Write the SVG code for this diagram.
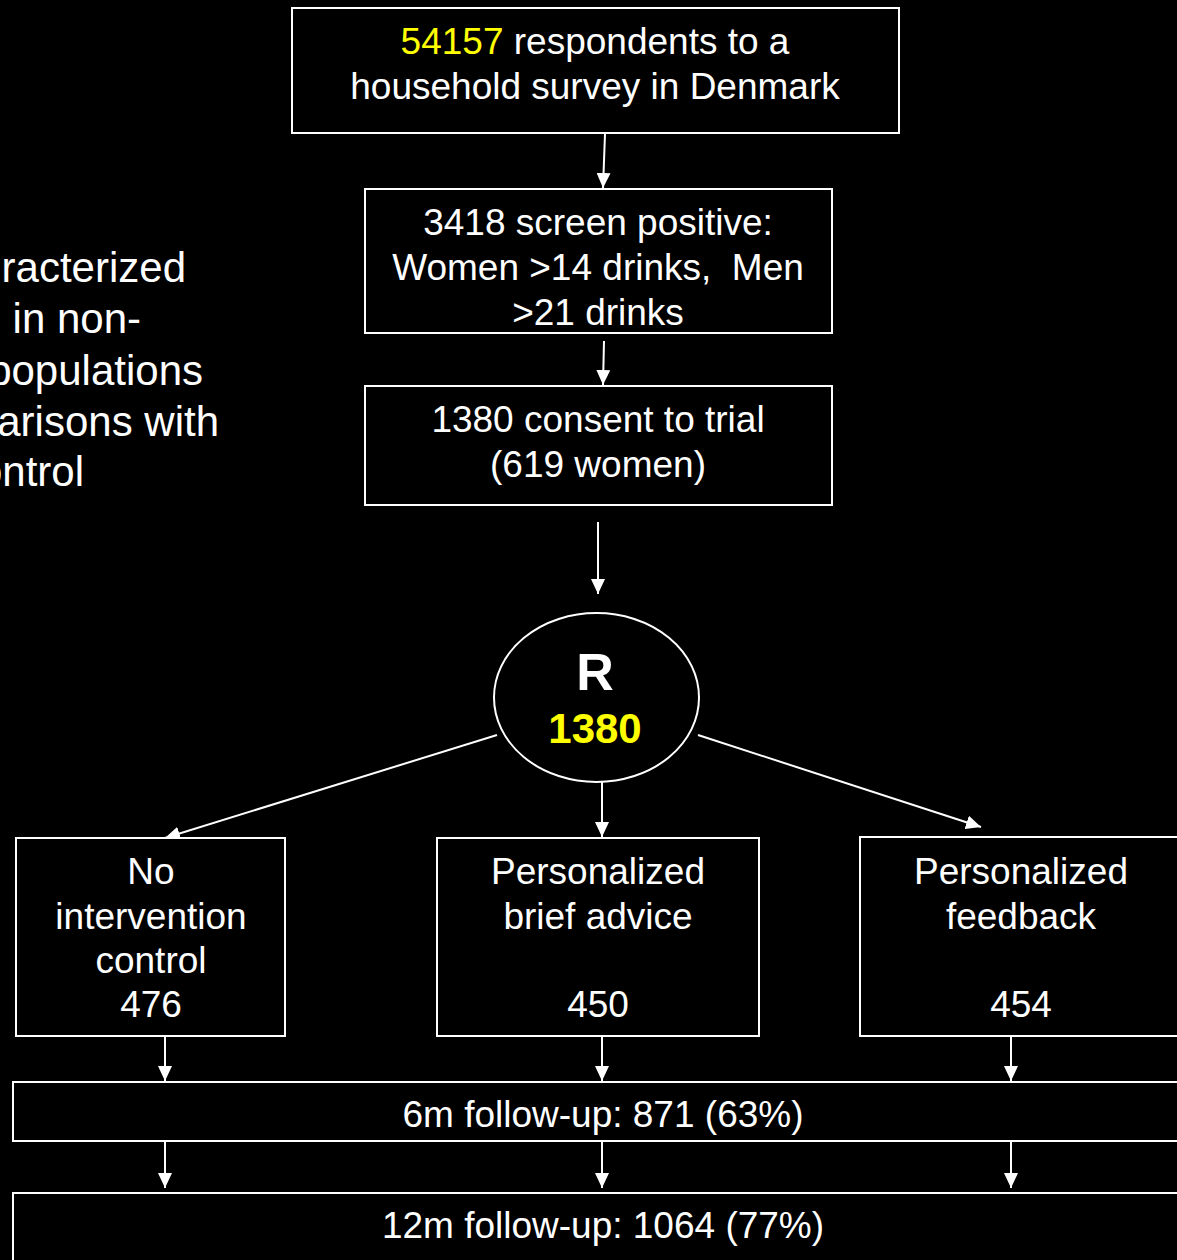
<svg xmlns="http://www.w3.org/2000/svg" width="1177" height="1260" viewBox="0 0 1177 1260">
<defs>
<style>
.box{fill:#000;stroke:#fff;stroke-width:2}
.t{font-family:"Liberation Sans",Arial,sans-serif;font-size:37px;fill:#fff;text-anchor:middle}
.side{font-family:"Liberation Sans",Arial,sans-serif;font-size:42px;fill:#fff;text-anchor:end}
.y{fill:#ffff00}
.c{stroke:#fff;stroke-width:2;fill:none;marker-end:url(#ah)}
</style>
<marker id="ah" viewBox="0 0 10 10" refX="10" refY="5" markerWidth="15" markerHeight="14" markerUnits="userSpaceOnUse" orient="auto" preserveAspectRatio="none">
<path d="M0,0 L10,5 L0,10 Z" fill="#fff"/>
</marker>
</defs>
<rect width="1177" height="1260" fill="#000"/>
<g id="side-text">
<text class="side" x="186" y="282">racterized</text>
<text class="side" x="141" y="333">in non-</text>
<text class="side" x="203" y="385">populations</text>
<text class="side" x="219" y="436">arisons with</text>
<text class="side" x="84" y="486">ontrol</text>
</g>
<g id="connectors">
<line class="c" x1="605" y1="134" x2="603" y2="188"/>
<line class="c" x1="604" y1="341" x2="603" y2="385"/>
<line class="c" x1="598" y1="522" x2="598" y2="594"/>
<line class="c" x1="497" y1="735" x2="165" y2="838"/>
<line class="c" x1="602" y1="782" x2="602" y2="837"/>
<line class="c" x1="698" y1="735" x2="981" y2="827"/>
<line class="c" x1="165" y1="1037" x2="165" y2="1081"/>
<line class="c" x1="602" y1="1037" x2="602" y2="1081"/>
<line class="c" x1="1011" y1="1037" x2="1011" y2="1081"/>
<line class="c" x1="165" y1="1142" x2="165" y2="1188"/>
<line class="c" x1="602" y1="1142" x2="602" y2="1188"/>
<line class="c" x1="1011" y1="1142" x2="1011" y2="1188"/>
</g>
<g id="respondents">
<rect class="box" x="292" y="8" width="607" height="125"/>
<text class="t" x="595" y="54"><tspan class="y">54157</tspan> respondents to a</text>
<text class="t" x="595" y="99">household survey in Denmark</text>
</g>
<g id="screen-positive">
<rect class="box" x="365" y="189" width="467" height="144"/>
<text class="t" x="598" y="235">3418 screen positive:</text>
<text class="t" x="598" y="280">Women &gt;14 drinks,&#160; Men</text>
<text class="t" x="598" y="325">&gt;21 drinks</text>
</g>
<g id="consent">
<rect class="box" x="365" y="386" width="467" height="119"/>
<text class="t" x="598" y="432">1380 consent to trial</text>
<text class="t" x="598" y="477">(619 women)</text>
</g>
<g id="randomization">
<ellipse class="box" cx="596.5" cy="697.5" rx="102.5" ry="84.5"/>
<text x="595" y="690" style="font-family:'Liberation Sans',Arial,sans-serif;font-size:52px;font-weight:bold;fill:#fff;text-anchor:middle">R</text>
<text x="595" y="743" style="font-family:'Liberation Sans',Arial,sans-serif;font-size:42px;font-weight:bold;fill:#ffff00;text-anchor:middle">1380</text>
</g>
<g id="control">
<rect class="box" x="16" y="838" width="269" height="198"/>
<text class="t" x="151" y="884">No</text>
<text class="t" x="151" y="929">intervention</text>
<text class="t" x="151" y="973">control</text>
<text class="t" x="151" y="1017">476</text>
</g>
<g id="brief-advice">
<rect class="box" x="437" y="838" width="322" height="198"/>
<text class="t" x="598" y="884">Personalized</text>
<text class="t" x="598" y="929">brief advice</text>
<text class="t" x="598" y="1017">450</text>
</g>
<g id="feedback">
<rect class="box" x="860" y="837" width="330" height="199"/>
<text class="t" x="1021" y="884">Personalized</text>
<text class="t" x="1021" y="929">feedback</text>
<text class="t" x="1021" y="1017">454</text>
</g>
<g id="followup-6m">
<rect class="box" x="13" y="1082" width="1180" height="59"/>
<text class="t" x="603" y="1127">6m follow-up: 871 (63%)</text>
</g>
<g id="followup-12m">
<rect class="box" x="13" y="1193" width="1180" height="80"/>
<text class="t" x="603" y="1238">12m follow-up: 1064 (77%)</text>
</g>
</svg>
